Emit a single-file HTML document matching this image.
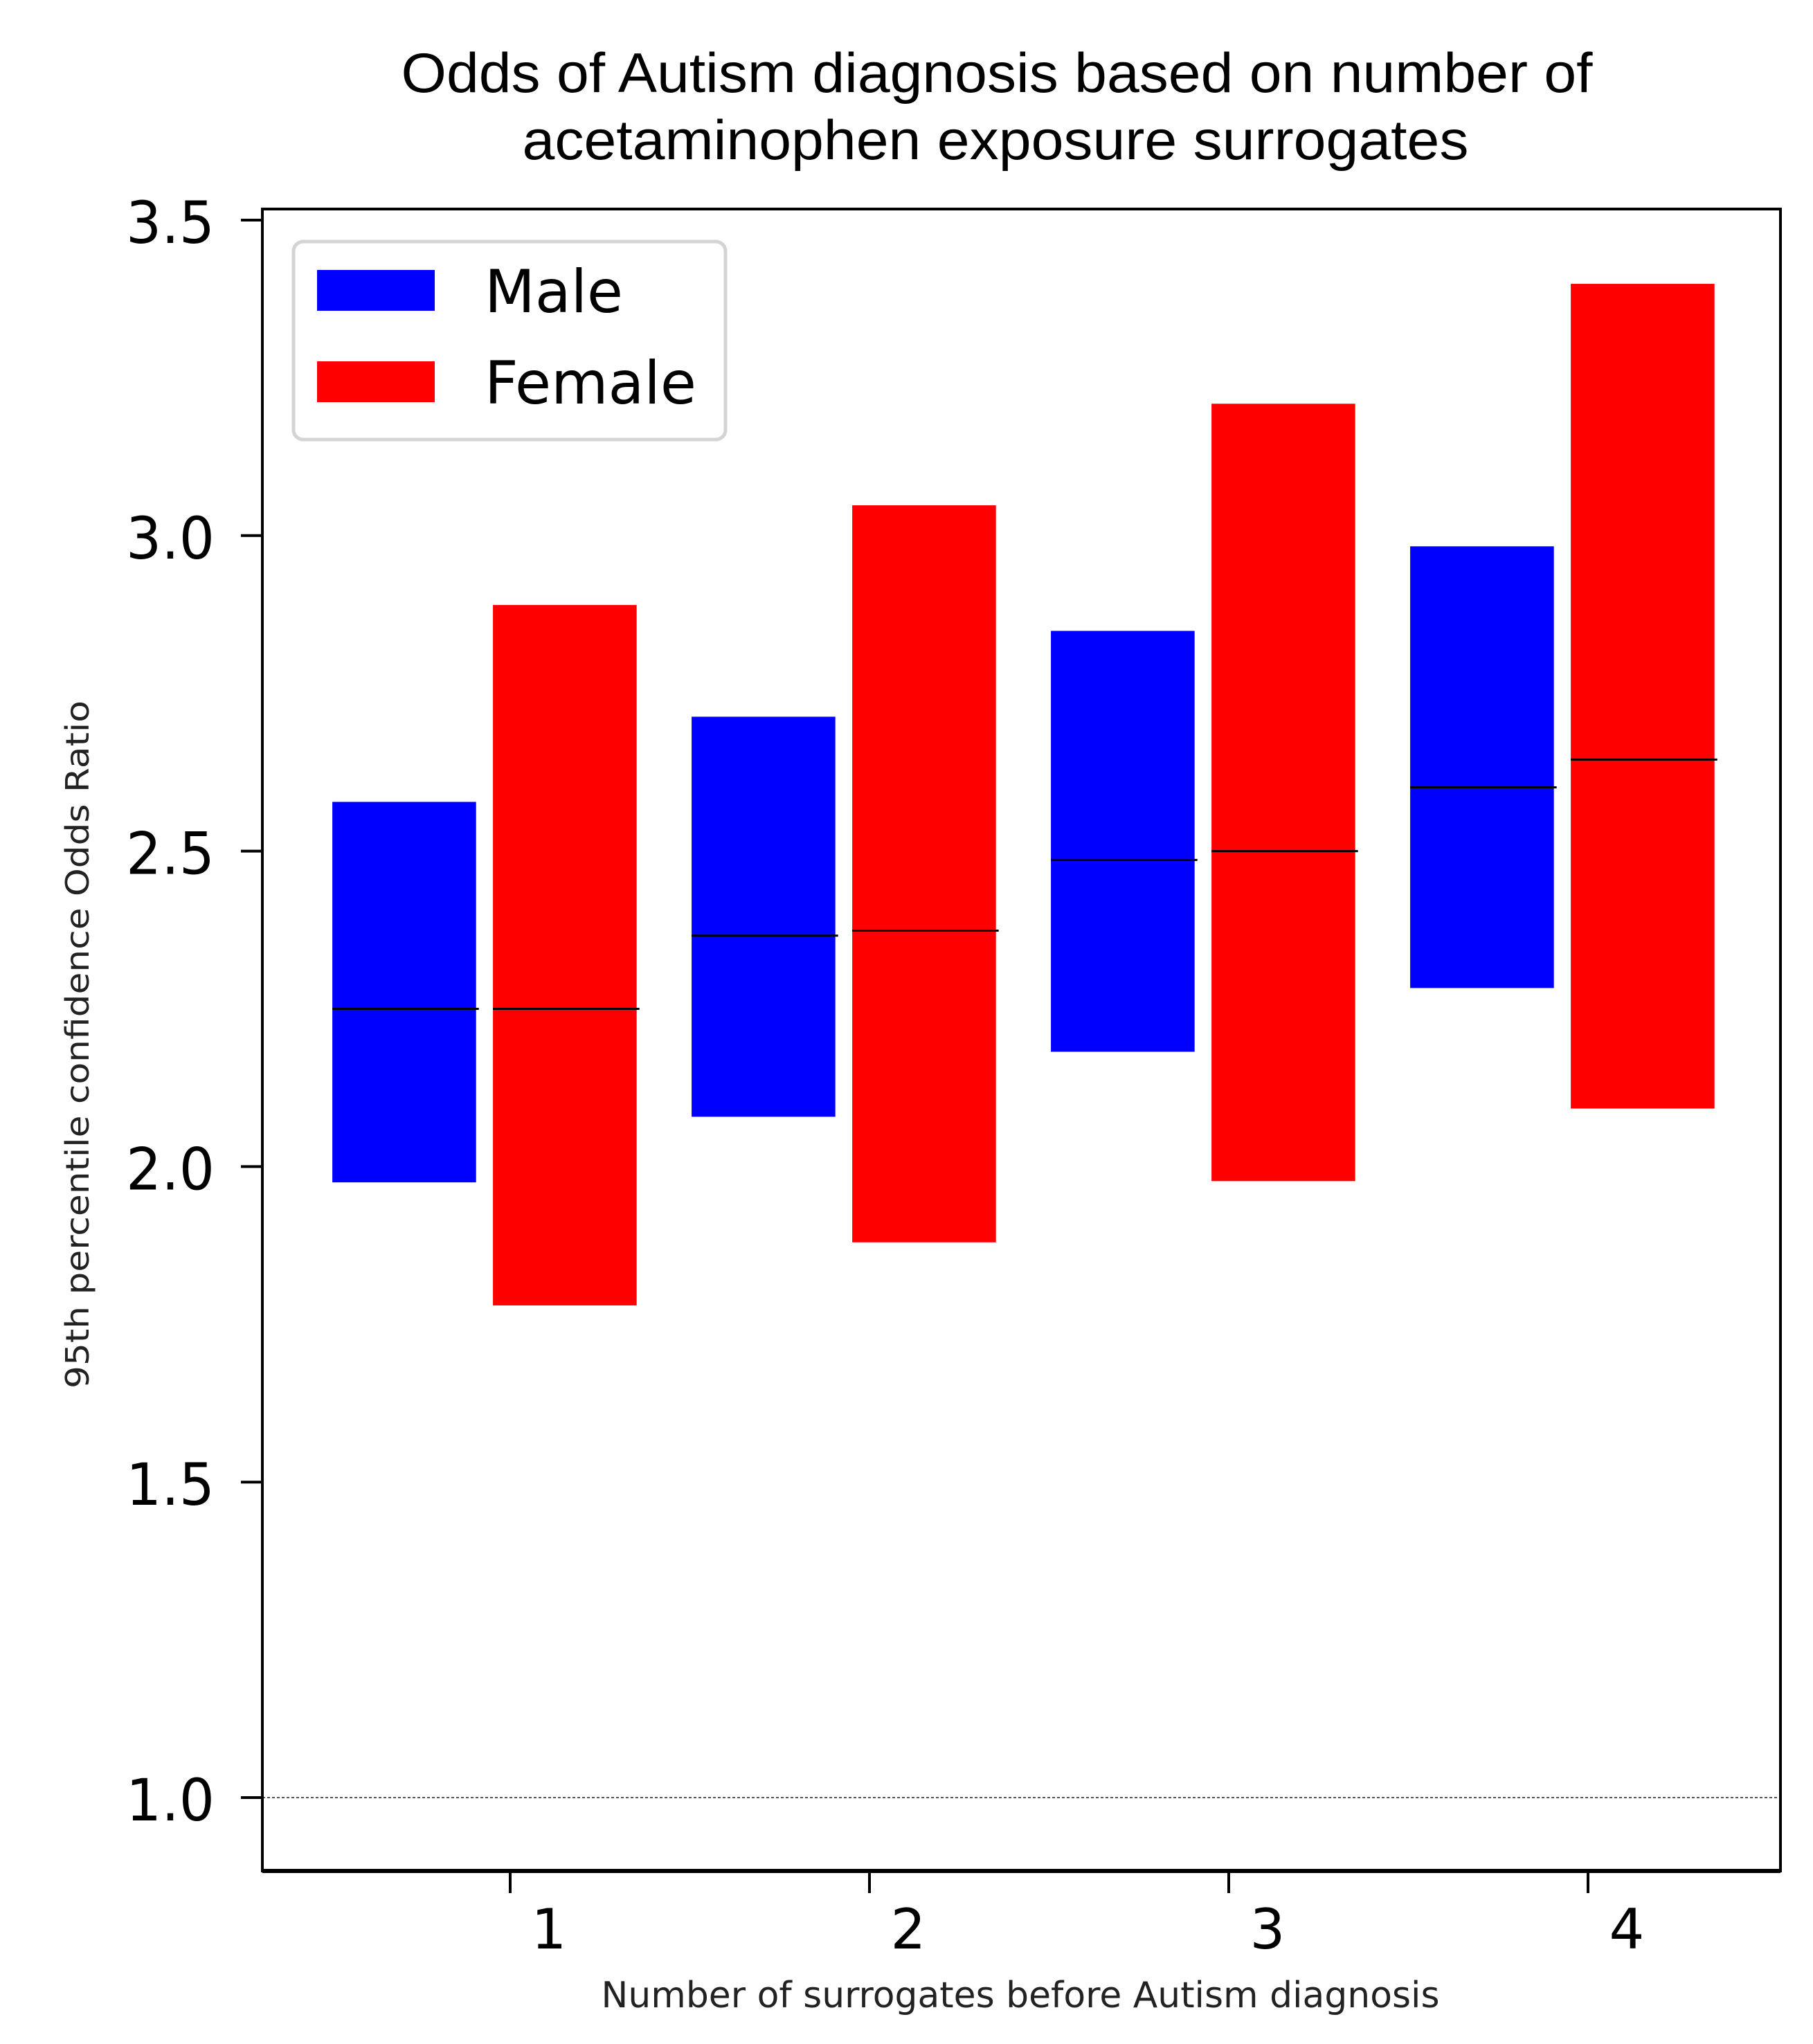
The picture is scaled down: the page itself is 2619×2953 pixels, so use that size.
<!DOCTYPE html>
<html><head><meta charset="utf-8"><style>
html,body{margin:0;padding:0;background:#fff;}
svg{display:block;}
</style></head><body>
<svg id="chart" width="2619" height="2953" viewBox="0 0 2619 2953" xmlns="http://www.w3.org/2000/svg">
<rect x="0" y="0" width="2619" height="2953" fill="#fff"/>
<g font-family="'Liberation Sans', sans-serif" font-size="81" fill="#000">
<text x="1440" y="133" text-anchor="middle" textLength="1721" lengthAdjust="spacingAndGlyphs">Odds of Autism diagnosis based on number of</text>
<text x="1438" y="230" text-anchor="middle" textLength="1367" lengthAdjust="spacingAndGlyphs">acetaminophen exposure surrogates</text>
</g>
<g id="bars"></g>
<g id="axes"></g>
<g>
<rect x="424" y="349" width="624" height="286" rx="14" fill="#fff" stroke="#d4d4d4" stroke-width="5"/>
<rect x="458" y="390" width="170" height="59" fill="#0000ff"/>
<text x="700" y="451" font-family="'DejaVu Sans', sans-serif" font-size="86" fill="#000" textLength="200" lengthAdjust="spacingAndGlyphs">Male</text>
<rect x="458" y="522" width="170" height="59" fill="#ff0000"/>
<text x="700" y="583" font-family="'DejaVu Sans', sans-serif" font-size="86" fill="#000" textLength="306" lengthAdjust="spacingAndGlyphs">Female</text>
</g>
<text x="1474" y="2900" text-anchor="middle" font-family="'DejaVu Sans', sans-serif" font-size="52" fill="#222" textLength="1211" lengthAdjust="spacingAndGlyphs">Number of surrogates before Autism diagnosis</text>
<text transform="translate(128,1509) rotate(-90)" text-anchor="middle" font-family="'DejaVu Sans', sans-serif" font-size="46" fill="#222" textLength="994" lengthAdjust="spacingAndGlyphs">95th percentile confidence Odds Ratio</text>
</svg>
<script>
const categories = [1, 2, 3, 4];
const maleLow = [1.975, 2.079, 2.182, 2.283];
const maleHigh = [2.578, 2.713, 2.849, 2.983];
const maleMid = [2.25, 2.366, 2.486, 2.601];
const femaleLow = [1.78, 1.88, 1.977, 2.092];
const femaleHigh = [2.89, 3.048, 3.209, 3.399];
const femaleMid = [2.25, 2.374, 2.5, 2.645];
const yTicks = [1.0, 1.5, 2.0, 2.5, 3.0, 3.5];
const yTickLabels = ["1.0", "1.5", "2.0", "2.5", "3.0", "3.5"];
const xTickLabels = ["1", "2", "3", "4"];

const NS = "http://www.w3.org/2000/svg";
const L = 379, R = 2572, T = 302, B = 2703;
function xs(v){ return 737 + (v - 1) * 519; }
function ys(v){ return 2597 - (v - 1.0) * 911.6; }
const BW = 0.4;
function mk(tag, attrs, parent){
  const e = document.createElementNS(NS, tag);
  for (const k in attrs) e.setAttribute(k, attrs[k]);
  parent.appendChild(e);
  return e;
}
const bars = document.getElementById('bars');
const axes = document.getElementById('axes');

const ref = mk('line', {x1: L, x2: R, y1: ys(1.0), y2: ys(1.0), stroke: '#555', 'stroke-width': 2, 'stroke-dasharray': '4 3'}, bars);



function series(low, high, mid, off, color, name){
  categories.forEach((c, i) => {
    const x0 = xs(c + off - BW / 2), x1 = xs(c + off + BW / 2);
    const r = mk('rect', {x: x0, y: ys(high[i]), width: x1 - x0, height: ys(low[i]) - ys(high[i]), fill: color}, bars);
    
    
    const m = mk('line', {x1: x0, x2: x1 + 4, y1: ys(mid[i]), y2: ys(mid[i]), stroke: '#000', 'stroke-width': 3}, bars);
    
    
  });
}
series(maleLow, maleHigh, maleMid, -0.295, '#0000ff', 'male');
series(femaleLow, femaleHigh, femaleMid, 0.152, '#ff0000', 'female');

const fr = mk('rect', {x: L, y: T, width: R - L, height: B - T, fill: 'none', stroke: '#000', 'stroke-width': 4}, axes);


const bl = mk('line', {x1: L, x2: R, y1: B, y2: B, stroke: '#000', 'stroke-width': 6}, axes);



yTicks.forEach((v, i) => {
  const t = mk('line', {x1: L - 31, x2: L, y1: ys(v), y2: ys(v), stroke: '#000', 'stroke-width': 4}, axes);
  
  
  const lb = mk('text', {x: 310, y: ys(v) + 33, 'text-anchor': 'end', 'font-family': "'DejaVu Sans', sans-serif", 'font-size': 84, fill: '#000', textLength: 128, lengthAdjust: 'spacingAndGlyphs'}, axes);
  
  
  lb.textContent = yTickLabels[i];
});
categories.forEach((c, i) => {
  const t = mk('line', {x1: xs(c), x2: xs(c), y1: B, y2: B + 32, stroke: '#000', 'stroke-width': 4}, axes);
  
  
  const lb = mk('text', {x: xs(c) + 56, y: 2815, 'text-anchor': 'middle', 'font-family': "'DejaVu Sans', sans-serif", 'font-size': 80, fill: '#000'}, axes);
  
  
  lb.textContent = xTickLabels[i];
});
</script>
</body></html>
